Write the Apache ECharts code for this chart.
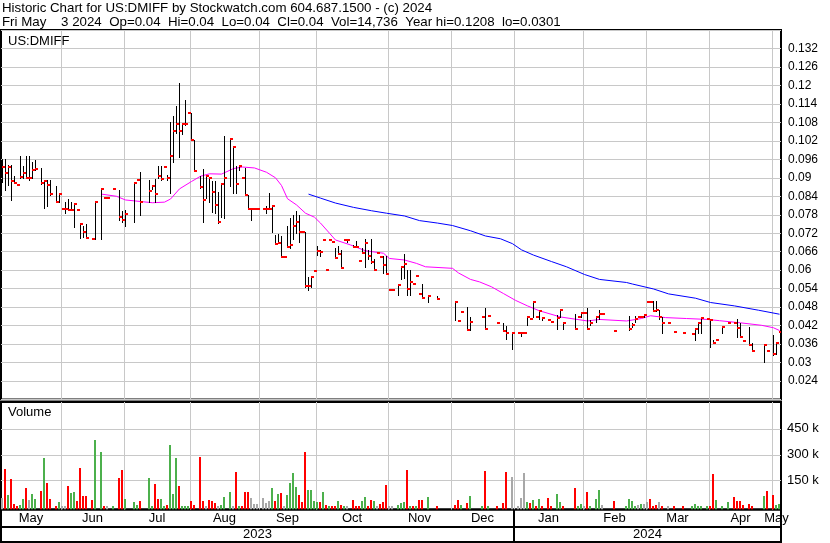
<!DOCTYPE html>
<html><head><meta charset="utf-8">
<script src="https://cdn.jsdelivr.net/npm/echarts@6/dist/echarts.min.js"></script>
<style>html,body{margin:0;padding:0;background:#fff;}#c{width:830px;height:543px;}</style>
</head><body><div id="c"></div>
<script>
// ---------- DATA ----------
const headerLine1 = 'Historic Chart for US:DMIFF by Stockwatch.com 604.687.1500 - (c) 2024';
const headerLine2 = 'Fri May    3 2024  Op=0.04  Hi=0.04  Lo=0.04  Cl=0.04  Vol=14,736  Year hi=0.1208  lo=0.0301';
const symbolName = 'US:DMIFF';
const monthNames = ['May','Jun','Jul','Aug','Sep','Oct','Nov','Dec','Jan','Feb','Mar','Apr','May'];
const monthStart = [0,20,41,63,86,105,129,150,171,194,215,236,257];
const yearNames = ['2023','2024'];
const yearStart = [0,171];
const dayCount = 260;
const volTicks = [150000,300000,450000];

const high = [
.0960,.0962,.0943,.0943,.0907,.0875,.0972,.0939,.0972,.0972,
.0951,.0959,null,.0932,.0894,.0894,.0894,null,.0874,.0852,
.0800,.0823,.0831,.0821,.0816,.0796,.0752,.0743,.0750,null,
.0700,.0822,null,.0867,.0833,.0833,null,.0864,null,.0861,
.0791,.0794,null,null,.0885,.0892,.0919,null,null,.0892,
.0877,.0896,.0937,.0937,.0934,.0910,.1081,.1100,.1133,.1208,
.1079,.1152,.1110,.1110,.1024,null,.0907,.0930,.0910,.0899,
.0890,.0890,.0853,.0883,.1035,null,.1026,.1000,.0937,.0943,
.0898,.0931,.0845,.0800,.0800,.0800,null,.0800,.0807,.0850,
.0809,.0714,.0717,.0712,.0642,.0742,.0771,.0778,.0791,.0778,
.0724,.0724,.0579,.0579,.0598,.0677,.0666,.0698,.0600,.0698,
.0690,.0671,.0679,.0666,.0698,.0700,null,.0682,.0695,.0629,
.0673,.0700,.0666,.0700,.0635,.0657,.0644,.0646,.0646,.0537,
.0537,null,.0554,.0615,.0653,.0600,.0600,.0556,.0582,.0523,
.0555,null,.0516,null,null,.0516,null,null,null,null,
null,.0499,.0435,.0465,null,.0479,.0447,null,null,null,
.0448,.0478,.0451,null,null,.0429,null,.0429,.0418,null,
.0396,null,.0396,.0396,.0396,.0450,.0441,.0500,.0448,.0472,
.0445,null,.0437,.0431,null,.0454,.0472,.0429,null,null,
null,.0459,.0448,.0462,.0461,.0478,.0437,null,.0451,.0472,
.0458,null,null,null,.0403,null,null,null,null,.0451,
.0427,.0451,.0447,.0447,.0456,.0497,.0497,.0499,.0499,.0470,
.0447,null,.0429,null,.0399,null,null,.0396,null,null,
.0394,.0412,.0430,.0445,null,.0443,.0443,.0372,.0372,null,
.0417,null,.0430,null,.0429,.0443,.0430,.0369,null,.0417,
.0365,null,null,null,.0356,.0338,null,.0389,.0365,.0400];

const low = [
.0885,.0859,.0875,.0829,.0882,.0875,.0899,.0899,.0898,.0894,
.0899,.0924,null,.0881,.0801,.0810,.0845,null,.0823,.0822,
.0800,.0787,.0796,.0794,.0740,.0796,.0706,.0709,.0703,null,
.0700,.0700,null,.0700,.0833,.0833,null,.0864,null,.0763,
.0758,.0742,null,null,.0758,.0892,.0780,null,null,.0823,
.0865,.0823,.0899,.0894,.0934,.0894,.0852,.0950,.1046,.0968,
.1041,.1073,.1110,.1024,.0921,null,.0867,.0755,.0834,.0823,
.0790,.0787,.0753,.0774,.0771,null,.0872,.0850,.0850,.0926,
.0898,.0845,.0800,.0764,.0800,.0800,null,.0800,.0787,.0800,
.0724,.0685,.0687,.0642,.0642,.0676,.0671,.0701,.0722,.0691,
.0724,.0546,.0537,.0546,.0598,.0649,.0646,.0698,.0600,.0698,
.0690,.0638,.0653,.0606,.0698,.0690,null,.0674,.0674,.0629,
.0657,.0611,.0635,.0622,.0600,.0657,.0644,.0590,.0587,.0537,
.0537,null,.0520,.0572,.0573,.0519,.0519,.0556,.0582,.0523,
.0511,null,.0497,null,null,.0506,null,null,null,null,
null,.0437,.0435,.0465,null,.0407,.0405,null,null,null,
.0448,.0409,.0451,null,null,.0429,null,.0402,.0378,null,
.0345,null,.0396,.0385,.0396,.0423,.0441,.0448,.0448,.0440,
.0437,null,.0437,.0431,null,.0410,.0448,.0410,null,null,
null,.0408,.0448,.0448,.0461,.0408,.0421,null,.0432,.0440,
.0458,null,null,null,.0403,null,null,null,null,.0407,
.0416,.0432,.0447,.0447,.0447,.0497,.0497,.0468,.0468,.0443,
.0396,null,.0429,null,.0399,null,null,.0396,null,null,
.0394,.0374,.0396,.0396,null,.0443,.0350,.0365,.0372,null,
.0396,null,.0430,null,.0429,.0383,.0383,.0369,null,.0356,
.0338,null,null,null,.0301,.0338,null,.0323,.0328,.0400];

const close = [
.0934,.0914,.0934,.0888,.0882,.0875,.0901,.0914,.0898,.0898,
.0924,.0928,null,.0882,.0888,.0875,.0849,null,.0823,.0849,
.0800,.0800,.0796,.0794,.0814,.0796,.0751,.0725,.0706,null,
.0700,.0820,null,.0864,.0833,.0833,null,.0864,null,.0774,
.0763,.0783,null,null,.0882,.0892,.0823,null,null,.0858,
.0874,.0849,.0905,.0896,.0934,.0899,.0970,.1051,.1075,.1051,
.1075,.1075,.1110,.1024,.0921,null,.0869,.0829,.0907,.0898,
.0855,.0812,.0755,.0879,.0898,null,.1025,.0999,.0880,.0939,
.0898,.0845,.0800,.0800,.0800,.0800,null,.0800,.0800,.0800,
.0809,.0685,.0689,.0642,.0642,.0676,.0681,.0744,.0755,.0724,
.0724,.0548,.0548,.0579,.0598,.0663,.0660,.0698,.0600,.0698,
.0690,.0641,.0653,.0607,.0698,.0698,null,.0674,.0674,.0629,
.0657,.0687,.0646,.0628,.0600,.0657,.0644,.0618,.0587,.0537,
.0537,null,.0551,.0609,.0619,.0540,.0562,.0556,.0582,.0523,
.0511,null,.0516,null,null,.0507,null,null,null,null,
null,.0496,.0435,.0465,null,.0407,.0432,null,null,null,
.0448,.0409,.0451,null,null,.0429,null,.0403,.0396,null,
.0396,null,.0396,.0396,.0396,.0448,.0441,.0496,.0448,.0467,
.0445,null,.0437,.0431,null,.0445,.0470,.0429,null,null,
null,.0408,.0448,.0461,.0461,.0408,.0427,null,.0448,.0458,
.0458,null,null,null,.0403,null,null,null,null,.0409,
.0421,.0440,.0447,.0447,.0456,.0497,.0497,.0468,.0470,.0447,
.0429,null,.0429,null,.0399,null,null,.0396,null,null,
.0394,.0410,.0429,.0445,null,.0443,.0437,.0365,.0372,null,
.0415,null,.0430,null,.0429,.0412,.0383,.0369,null,.0356,
.0338,null,null,null,.0356,.0338,null,.0328,.0365,.0400];

const volume = [
50000,215000,65000,158000,15000,2000,8000,42000,106000,37000,
71000,42000,null,88000,279000,135000,42000,null,0,23000,
2000,2000,117000,77000,83000,31000,221000,60000,60000,null,
37000,383000,null,313000,2000,0,null,2000,null,163000,
210000,42000,null,null,25000,8000,31000,null,null,163000,
0,129000,42000,42000,2000,8000,354000,71000,279000,117000,
2000,0,0,31000,8000,null,285000,31000,0,37000,
31000,19000,0,8000,54000,null,83000,0,198000,2000,
2000,83000,83000,48000,13000,13000,null,48000,19000,31000,
106000,31000,71000,77000,0,65000,135000,192000,112000,65000,
25000,313000,94000,94000,31000,25000,25000,83000,8000,0,
0,0,31000,8000,2000,0,null,37000,2000,0,
31000,54000,2000,37000,31000,0,13000,25000,123000,0,
0,null,8000,19000,25000,210000,2000,0,0,37000,
37000,null,54000,null,null,2000,null,null,null,null,
null,8000,37000,8000,null,19000,60000,null,null,null,
0,204000,0,null,null,0,null,19000,198000,null,
169000,null,2000,48000,192000,25000,19000,37000,2000,42000,
2000,null,48000,2000,null,71000,25000,2000,null,null,
null,106000,0,13000,0,83000,2000,null,42000,94000,
8000,null,null,null,31000,null,null,null,2000,42000,
31000,0,8000,13000,13000,25000,42000,2000,8000,25000,
2000,null,0,null,0,null,null,0,null,null,
0,13000,2000,2000,null,0,0,187000,37000,null,
2000,null,25000,null,54000,31000,31000,8000,null,13000,
0,null,null,null,60000,88000,null,65000,8000,14736];

// u = up (green), d = down (red), n = unchanged (grey)
const volumeDir = [
'n','d','u','d','d','d','u','u','d','n',
'u','u','','d','u','d','d','','d','u',
'n','n','d','u','u','d','d','d','d','',
'd','u','','u','d','n','','u','','d',
'd','u','','','u','u','d','','','u',
'u','d','d','u','u','d','u','u','u','d',
'u','u','u','d','d','','d','d','n','d',
'd','d','n','u','u','','u','n','d','u',
'd','d','d','n','n','n','','n','n','n',
'u','d','u','d','n','u','u','u','u','d',
'd','d','u','u','u','u','d','u','d','u',
'd','d','u','d','u','n','','d','d','d',
'u','u','d','d','u','n','d','d','d','n',
'n','','u','u','u','d','u','d','u','d',
'd','','u','','','d','','','','',
'','d','d','u','','d','u','','','',
'u','d','u','','','d','','d','d','',
'n','','n','n','n','u','d','u','d','u',
'd','','d','d','','u','u','d','','',
'','d','u','u','n','d','u','','u','u',
'n','','','','d','','','','u','u',
'u','u','n','u','n','n','d','d','d','n',
'd','','n','','d','','','d','','',
'u','u','u','u','','u','d','d','u','',
'u','','u','','d','d','d','d','','d',
'd','','','','u','d','','d','u','u'];

// moving averages: [trading day, value]
const maShort = [[33,.0847],[38,.0840],[41,.0828],[46,.0823],[50,.0819],[54,.0821],[56,.0831],[59,.0864],[63,.0888],[66,.0905],[69,.0913],[73,.0912],[77,.0930],[80,.0935],[84,.0932],[88,.0918],[91,.0900],[93,.0875],[95,.0832],[98,.0812],[101,.0785],[104,.0772],[106,.0753],[109,.0720],[111,.0698],[116,.0682],[121,.0663],[127,.0655],[129,.0638],[134,.0633],[138,.0622],[141,.0611],[150,.0606],[152,.0591],[156,.0570],[159,.0562],[163,.0546],[167,.0524],[171,.0502],[175,.0484],[179,.0468],[186,.0448],[195,.0435],[199,.0440],[208,.0435],[213,.0443],[216,.0452],[221,.0446],[228,.0443],[235,.0440],[239,.0436],[246,.0429],[253,.0421],[257,.0413],[259,.0404]];
const maLong = [[102,.0847],[106,.0834],[111,.0818],[117,.0804],[123,.0793],[128,.0785],[134,.0776],[139,.0761],[145,.0753],[150,.0745],[156,.0728],[161,.0711],[166,.0702],[170,.0686],[173,.0666],[177,.0649],[183,.0628],[188,.0611],[194,.0586],[199,.0570],[208,.0560],[210,.0555],[217,.0539],[222,.0523],[231,.0509],[236,.0495],[244,.0484],[252,.0470],[259,.0457]];

// ---------- CHART ----------
const FONT = '"Liberation Sans", Arial, sans-serif';
const RED = '#ff0000', GREEN = '#4cb04c', GREY = '#a8a8a8', GRIDC = '#c8c8c8';

const ohlcData = [];
for (let i = 0; i < dayCount; i++) {
  if (close[i] != null) ohlcData.push([i, high[i], low[i], close[i]]);
}
const volData = [];
for (let i = 0; i < dayCount; i++) {
  if (volume[i] != null) volData.push({value: [i, volume[i]], dir: volumeDir[i]});
}
const monthData = monthNames.map((n, j) => [monthStart[j], j + 1 < monthStart.length ? monthStart[j + 1] : dayCount, j]);
const yearData = yearNames.map((n, j) => [yearStart[j], j + 1 < yearStart.length ? yearStart[j + 1] : dayCount, j]);
const boundaryData = monthStart.slice(1).map(k => [k]);

const xBase = {type: 'value', min: -0.5, max: dayCount - 0.5, show: false, splitLine: {show: false}};

function vGridItem(params, api) {
  const cs = params.coordSys;
  const x = Math.floor(api.coord([api.value(0) - 0.5, 0])[0]) + 0.5;
  return {type: 'line', shape: {x1: x, y1: cs.y, x2: x, y2: cs.y + cs.height}, style: {stroke: GRIDC, lineWidth: 1}, silent: true};
}

const option = {
  animation: false,
  backgroundColor: '#fff',
  title: [
    {text: headerLine1 + '\n' + headerLine2, left: 2, top: 1, padding: 0,
     textStyle: {fontSize: 13.3, fontWeight: 'normal', color: '#000', fontFamily: FONT, lineHeight: 14}},
    {text: symbolName, left: 8, top: 35, padding: 0,
     textStyle: {fontSize: 13, fontWeight: 'normal', color: '#000', fontFamily: FONT, lineHeight: 13}},
    {text: 'Volume', left: 8, top: 406, padding: 0,
     textStyle: {fontSize: 13, fontWeight: 'normal', color: '#000', fontFamily: FONT, lineHeight: 13}}
  ],
  grid: [
    {left: 1, right: 49, top: 30, height: 369.5, show: true, borderColor: '#000', borderWidth: 2, backgroundColor: 'transparent'},
    {left: 1, right: 49, top: 402, height: 107.5, show: true, borderColor: '#000', borderWidth: 2, backgroundColor: 'transparent'},
    {left: 1, right: 49, top: 509.5, height: 32.5, show: true, borderColor: '#000', borderWidth: 2, backgroundColor: 'transparent'}
  ],
  xAxis: [
    Object.assign({gridIndex: 0}, xBase),
    Object.assign({gridIndex: 1}, xBase),
    Object.assign({gridIndex: 2}, xBase)
  ],
  yAxis: [
    {gridIndex: 0, type: 'value', position: 'right', min: 0.018, max: 0.138, interval: 0.006,
     axisLine: {show: false}, axisTick: {show: false},
     axisLabel: {margin: 7, fontSize: 12, color: '#000', fontFamily: FONT, showMinLabel: false, showMaxLabel: false,
       formatter: v => String(parseFloat(v.toFixed(4)))},
     splitLine: {show: true, lineStyle: {color: GRIDC, width: 1}}},
    {gridIndex: 1, type: 'value', position: 'right', min: -18500, max: 604500,
     axisLine: {show: false}, axisTick: {show: false}, splitLine: {show: false},
     axisLabel: {margin: 6, fontSize: 13, color: '#000', fontFamily: FONT, customValues: volTicks,
       formatter: v => (v / 1000) + ' k'}},
    {gridIndex: 2, type: 'value', min: 0, max: 1, show: false, splitLine: {show: false}}
  ],
  series: [
    {type: 'custom', name: 'priceMonthGrid', xAxisIndex: 0, yAxisIndex: 0, data: boundaryData, renderItem: vGridItem, silent: true, z: 1},
    {type: 'custom', name: 'volMonthGrid', xAxisIndex: 1, yAxisIndex: 1, data: boundaryData, renderItem: vGridItem, silent: true, z: 1},
    {type: 'custom', name: 'volHGrid', xAxisIndex: 1, yAxisIndex: 1, data: volTicks.map(v => [v]), silent: true, z: 1,
     renderItem: (params, api) => {
       const cs = params.coordSys;
       const y = Math.round(api.coord([0, api.value(0)])[1]) + 0.5;
       return {type: 'line', shape: {x1: cs.x, y1: y, x2: cs.x + cs.width, y2: y}, style: {stroke: GRIDC, lineWidth: 1}};
     }},
    {type: 'line', name: 'MA short', xAxisIndex: 0, yAxisIndex: 0, data: maShort, showSymbol: false, symbol: 'none',
     lineStyle: {color: '#ff00ff', width: 1}, z: 3, silent: true},
    {type: 'line', name: 'MA long', xAxisIndex: 0, yAxisIndex: 0, data: maLong, showSymbol: false, symbol: 'none',
     lineStyle: {color: '#0000ff', width: 1}, z: 3, silent: true},
    {type: 'custom', name: 'OHLC', xAxisIndex: 0, yAxisIndex: 0, data: ohlcData, clip: true, z: 4,
     renderItem: (params, api) => {
       const i = api.value(0);
       const ph = api.coord([i, api.value(1)]);
       const pl = api.coord([i, api.value(2)]);
       const pc = api.coord([i, api.value(3)]);
       const x = Math.floor(ph[0]);
       const children = [];
       const top = Math.round(ph[1]), bot = Math.round(pl[1]);
       if (bot - top >= 1) {
         children.push({type: 'rect', shape: {x: x, y: top, width: 1, height: bot - top + 1}, style: {fill: '#000'}});
       }
       children.push({type: 'rect', shape: {x: x, y: Math.round(pc[1]) - 1, width: 3, height: 2}, style: {fill: RED}});
       return {type: 'group', children: children};
     }},
    {type: 'custom', name: 'Volume', xAxisIndex: 1, yAxisIndex: 1, data: volData, clip: true, z: 4,
     renderItem: (params, api) => {
       const cs = params.coordSys;
       const i = api.value(0);
       const p = api.coord([i, api.value(1)]);
       const x = Math.floor(p[0]) - 1;
       const bottom = cs.y + cs.height;
       const d = volData[params.dataIndex].dir;
       const col = d === 'u' ? GREEN : (d === 'd' ? RED : GREY);
       const top = Math.round(p[1]);
       return {type: 'rect', shape: {x: x, y: top, width: 2, height: bottom - top}, style: {fill: col}};
     }},
    {type: 'custom', name: 'months', xAxisIndex: 2, yAxisIndex: 2, data: monthData, clip: false, z: 5, silent: true,
     renderItem: (params, api) => {
       const cs = params.coordSys;
       const x0 = api.coord([api.value(0) - 0.5, 0])[0];
       const x1 = api.coord([api.value(1) - 0.5, 0])[0];
       return {type: 'text', x: (x0 + x1) / 2, y: cs.y + 9,
         style: {text: monthNames[api.value(2)], font: '13px ' + FONT, fill: '#000', align: 'center', verticalAlign: 'middle'}};
     }},
    {type: 'custom', name: 'years', xAxisIndex: 2, yAxisIndex: 2, data: yearData, clip: false, z: 5, silent: true,
     renderItem: (params, api) => {
       const cs = params.coordSys;
       const x0 = api.coord([api.value(0) - 0.5, 0])[0];
       const x1 = api.coord([api.value(1) - 0.5, 0])[0];
       const children = [
         {type: 'text', x: (x0 + x1) / 2, y: cs.y + 25,
          style: {text: yearNames[api.value(2)], font: '13px ' + FONT, fill: '#000', align: 'center', verticalAlign: 'middle'}},
         {type: 'line', shape: {x1: cs.x, y1: cs.y + 17.5, x2: cs.x + cs.width, y2: cs.y + 17.5}, style: {stroke: '#000', lineWidth: 2}}
       ];
       if (api.value(0) > 0) {
         children.push({type: 'line', shape: {x1: x0, y1: cs.y, x2: x0, y2: cs.y + cs.height}, style: {stroke: '#000', lineWidth: 2}});
       }
       return {type: 'group', children: children};
     }}
  ]
};

const chart = echarts.init(document.getElementById('c'), null, {renderer: 'canvas'});
chart.setOption(option);
</script>
</body></html>
